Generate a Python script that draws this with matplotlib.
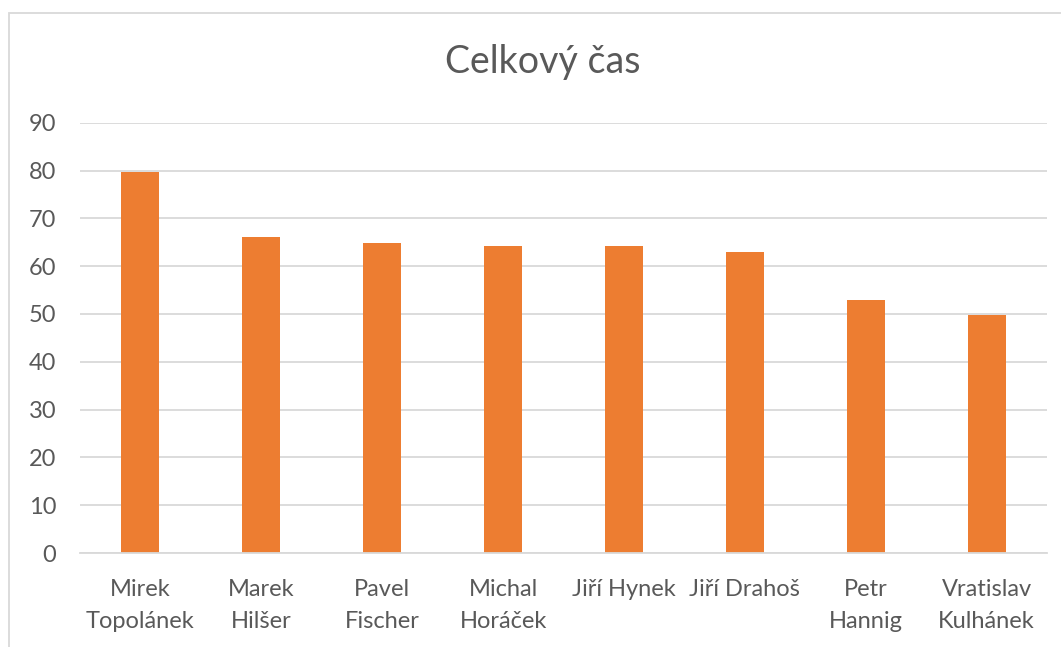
import matplotlib.pyplot as plt
from matplotlib.patches import Rectangle

# Celkový čas jednotlivých kandidátů
kandidati = ['Mirek\nTopolánek', 'Marek\nHilšer', 'Pavel\nFischer', 'Michal\nHoráček',
             'Jiří Hynek', 'Jiří Drahoš', 'Petr\nHannig', 'Vratislav\nKulhánek']
cas = [79.7, 66.0, 64.8, 64.2, 64.2, 62.9, 52.9, 49.7]
yticks = [0, 10, 20, 30, 40, 50, 60, 70, 80, 90]

sedá = '#595959'
mrizka = '#d9d9d9'
oranzova = '#ED7D31'

plt.rcParams['font.family'] = ['Lato', 'DejaVu Sans']

fig = plt.figure(figsize=(10.61, 6.47), dpi=100)
# rámeček grafu
fig.patches.append(Rectangle((9 / 1061, -0.1), 1.2, 1 - 13 / 647 + 0.1,
                             transform=fig.transFigure, fill=False,
                             edgecolor=mrizka, linewidth=1.3))

ax = fig.add_axes([80 / 1061, 1 - 553 / 647, (1047 - 80) / 1061, (553 - 122.7) / 647])
x = range(len(kandidati))
ax.bar(x, cas, width=0.315, color=oranzova, zorder=3)

ax.set_xlim(-0.5, len(kandidati) - 0.5)
ax.set_ylim(0, 90)
ax.set_yticks(yticks)
ax.set_xticks(list(x))
ax.set_xticklabels(kandidati, linespacing=1.6)
ax.tick_params(axis='y', length=0, pad=17, labelsize=17, labelcolor=sedá)
ax.tick_params(axis='x', length=0, pad=19, labelsize=17, labelcolor=sedá)
ax.grid(axis='y', color=mrizka, linewidth=1.3, zorder=0)
for s in ['top', 'right', 'left']:
    ax.spines[s].set_visible(False)
ax.spines['bottom'].set_color(mrizka)
ax.spines['bottom'].set_linewidth(1.3)
ax.spines['bottom'].set_zorder(4)

fig.text(543 / 1061, 1 - 62 / 647, 'Celkový čas', ha='center', va='center',
         fontsize=27, color=sedá)

fig.savefig('out.png', dpi=100)
